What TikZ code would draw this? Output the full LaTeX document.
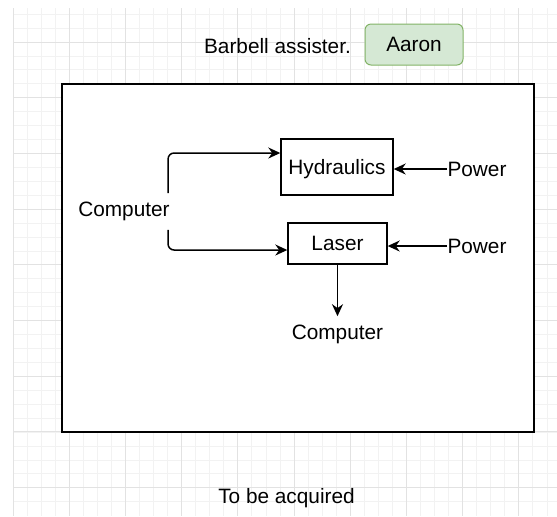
\documentclass[tikz,border=0pt]{standalone}
\usepackage{fontspec}
\setmainfont{Liberation Sans}
\usepackage{xcolor}
\usetikzlibrary{arrows.meta, positioning}

\definecolor{gridminor}{HTML}{F2F2F2}
\definecolor{gridmajor}{HTML}{E2E2E2}
\definecolor{aaronfill}{HTML}{D5E8D4}
\definecolor{aarondraw}{HTML}{82B366}

\begin{document}
\begin{tikzpicture}[>=Stealth, x=0.5pt, y=-0.5pt,
    font=\fontsize{10.4}{12}\selectfont,
    box/.style={rectangle, draw, line width=0.7pt, inner sep=0pt, text depth=0pt},
    lbl/.style={inner sep=0pt},
    conn/.style={-{Stealth[length=6pt, width=5.5pt]}, line width=0.75pt}]
  \useasboundingbox (0,0) rectangle (557,516);

  % Grid background
  \foreach \i in {0,...,38} {
    \pgfmathsetmacro\gx{13+14.05*\i}
    \draw[gridminor, line width=0.4pt] (\gx,8) -- (\gx,516);
  }
  \foreach \j in {-2,...,33} {
    \pgfmathsetmacro\gy{42+13.93*\j}
    \draw[gridminor, line width=0.4pt] (13,\gy) -- (557,\gy);
  }
  \foreach \i in {0,...,9} {
    \pgfmathsetmacro\gx{13+56.2*\i}
    \draw[gridmajor, line width=0.5pt] (\gx,8) -- (\gx,516);
  }
  \foreach \j in {0,...,8} {
    \pgfmathsetmacro\gy{42+55.7*\j}
    \draw[gridmajor, line width=0.5pt] (13,\gy) -- (557,\gy);
  }

  % Outer frame
  \node[box, fill=white, line width=0.8pt, minimum width=236pt, minimum height=174pt] (frame) at (298,258) {};

  % Header
  \node[lbl] (title) at (277.5,46) {Barbell assister.};
  \node[box, rounded corners=3pt, fill=aaronfill, draw=aarondraw, line width=0.5pt,
        minimum width=49pt, minimum height=20.5pt] (aaron) at (414,44.5) {Aaron};

  % Blocks
  \node[box, minimum width=56pt, minimum height=28pt] (hyd) at (337,167) {Hydraulics};
  \node[box, minimum width=49.5pt, minimum height=20.5pt] (laser) at (337.5,243.5) {Laser};

  % Labels
  \node[lbl] (pow1) at (477,169) {Power};
  \node[lbl] (pow2) at (477,246) {Power};
  \node[lbl] (compL) at (124,211) {Computer};
  \node[lbl] (compB) at (337.5,334) {Computer};
  \node[lbl] (note) at (286.5,498) {To be acquired};

  % Connections
  \draw[conn] (pow1.west) -- (pow1.west -| hyd.east);
  \draw[conn] (pow2.west) -- (pow2.west -| laser.east);
  \draw[conn, rounded corners=3pt] ([xshift=-1pt, yshift=4pt]compL.north east) |- ([yshift=7pt]hyd.west);
  \draw[conn, rounded corners=3pt] ([xshift=-1pt, yshift=-4.5pt]compL.south east) |- ([yshift=-3.25pt]laser.west);
  \draw[conn] (laser.south) -- ([yshift=4pt]laser.south |- compB.north);

\end{tikzpicture}
\end{document}
